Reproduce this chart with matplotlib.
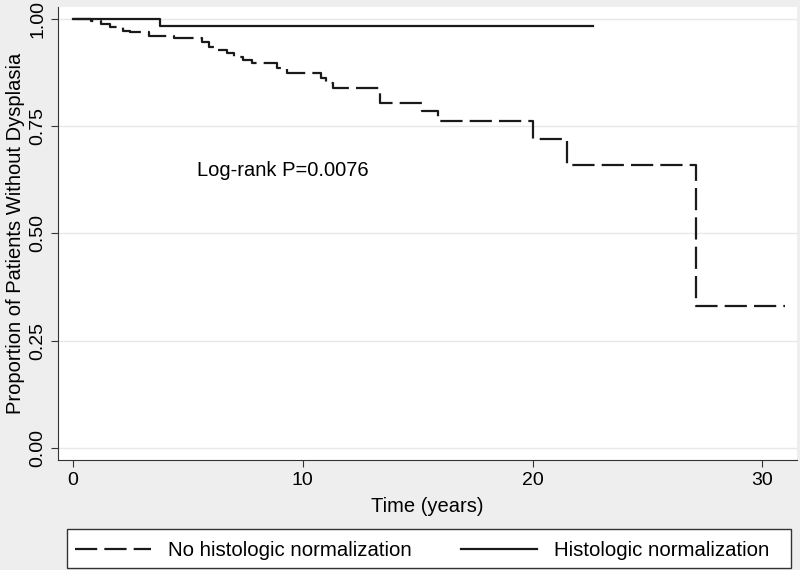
import matplotlib
matplotlib.use('Agg')
import matplotlib.pyplot as plt
from matplotlib.patches import Rectangle

plt.rcParams['font.family'] = ['Liberation Sans', 'DejaVu Sans']

# dashed group: no histologic normalization (step times in years, survival)
t_no = [0, 0.8, 1.2, 1.6, 2.2, 2.5, 3.3, 4.4, 5.6, 5.9, 6.2, 6.7, 7.0, 7.4, 7.8,
        8.9, 9.3, 10.8, 11.0, 11.3, 13.35, 15.2, 15.9, 20.0, 21.5, 27.1, 31.0]
s_no = [1.0, 0.995, 0.988, 0.981, 0.972, 0.969, 0.959, 0.955, 0.945, 0.935, 0.928,
        0.92, 0.912, 0.905, 0.898, 0.886, 0.873, 0.862, 0.85, 0.838, 0.805, 0.786,
        0.763, 0.72, 0.66, 0.33, 0.33]
# solid group: histologic normalization
t_yes = [0, 3.8, 22.65]
s_yes = [1.0, 0.984, 0.984]

xticks = [0, 10, 20, 30]
yticks = [0.0, 0.25, 0.5, 0.75, 1.0]
ylabels = ['0.00', '0.25', '0.50', '0.75', '1.00']

bg = '#eeeeee'
fig = plt.figure(figsize=(8, 5.7), dpi=100, facecolor=bg)
ax = fig.add_axes([0.0725, 0.193, 0.9235, 0.795])
ax.set_facecolor('white')

for y in yticks:
    ax.axhline(y, color='#e8e8e8', lw=1.0, zorder=0)

l1, = ax.step(t_no, s_no, where='post', color='#1a1a1a', lw=1.6,
              dashes=(10, 3.2), label='No histologic normalization')
l2, = ax.step(t_yes, s_yes, where='post', color='#1a1a1a', lw=1.6,
              label='Histologic normalization')

ax.text(5.4, 0.646, 'Log-rank P=0.0076', fontsize=14.5, va='center', ha='left')

ax.set_xlim(-0.65, 31.5)
ax.set_ylim(-0.028, 1.028)
ax.set_xticks(xticks)
ax.set_yticks(yticks)
ax.set_yticklabels(ylabels, rotation=90, va='center')
ax.tick_params(labelsize=14, length=5, color='#333333')
for s in ['top', 'right']:
    ax.spines[s].set_visible(False)
for s in ['left', 'bottom']:
    ax.spines[s].set_color('#333333')
ax.set_xlabel('Time (years)', fontsize=14.5, labelpad=6)
ax.set_ylabel('Proportion of Patients Without Dysplasia', fontsize=14.5, labelpad=3)

# legend box drawn separately so its width matches the plot
fig.patches.append(Rectangle((0.084, 0.0035), 0.905, 0.068, transform=fig.transFigure,
                             facecolor='white', edgecolor='#333333', lw=1.0, zorder=1))
leg = fig.legend(handles=[l1, l2], loc='center left', bbox_to_anchor=(0.084, 0.034),
                 ncol=2, fontsize=14.7, frameon=False, handlelength=3.7,
                 handletextpad=0.85, columnspacing=2.4, borderaxespad=0, borderpad=0.4)

fig.savefig('out.png', dpi=100, facecolor=bg)
